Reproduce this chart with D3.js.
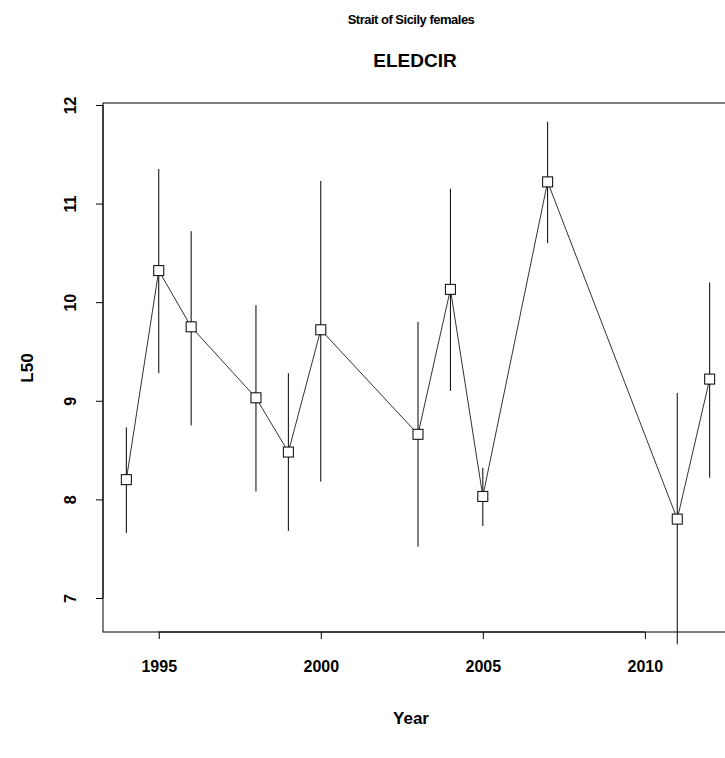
<!DOCTYPE html>
<html><head><meta charset="utf-8">
<script src="https://cdn.jsdelivr.net/npm/d3@7"></script>
<style>body{margin:0;background:#fff;overflow:hidden}</style>
</head><body>
<script>
var years = [1994, 1995, 1996, 1998, 1999, 2000, 2003, 2004, 2005, 2007, 2011, 2012];
var l50   = [8.20, 10.32, 9.75, 9.03, 8.48, 9.72, 8.66, 10.13, 8.03, 11.22, 7.80, 9.22];
var upper = [8.73, 11.35, 10.72, 9.97, 9.28, 11.23, 9.80, 11.15, 8.32, 11.83, 9.08, 10.20];
var lower = [7.66, 9.28, 8.75, 8.08, 7.68, 8.18, 7.52, 9.10, 7.73, 10.60, 6.53, 8.22];
var xTicks = [1995, 2000, 2005, 2010];
var yTicks = [7, 8, 9, 10, 11, 12];

var data = years.map(function(y, i) { return {year: y, v: l50[i], hi: upper[i], lo: lower[i]}; });

var margin = {top: 103, left: 103, bottom: 632, right: 733};
var svg = d3.select("body").append("svg").attr("width", 725).attr("height", 758)
  .style("font-family", "Liberation Sans, Arial, sans-serif");

var x = d3.scaleLinear().domain([1993.28, 2012.72]).range([margin.left, margin.right]);
var y = d3.scaleLinear().domain([6.655, 12.02]).range([margin.bottom, margin.top]);

// error bars
svg.selectAll("line.err").data(data).enter().append("line")
  .attr("x1", function(d) { return x(d.year); }).attr("x2", function(d) { return x(d.year); })
  .attr("y1", function(d) { return y(d.lo); }).attr("y2", function(d) { return y(d.hi); })
  .attr("stroke", "#000").attr("stroke-width", 1);

var line = d3.line().x(function(d) { return x(d.year); }).y(function(d) { return y(d.v); });
svg.append("path").datum(data).attr("d", line).attr("fill", "none").attr("stroke", "#333").attr("stroke-width", 1);

svg.selectAll("rect.pt").data(data).enter().append("rect")
  .attr("x", function(d) { return x(d.year) - 5; }).attr("y", function(d) { return y(d.v) - 5; })
  .attr("width", 10).attr("height", 10).attr("fill", "#fff").attr("stroke", "#000");

// box
svg.append("rect").attr("x", margin.left).attr("y", margin.top)
  .attr("width", margin.right - margin.left).attr("height", margin.bottom - margin.top)
  .attr("fill", "none").attr("stroke", "#000");

// axes
var xAxis = d3.axisBottom(x).tickValues(xTicks).tickSize(7).tickPadding(22).tickFormat(d3.format("d"));
var gx = svg.append("g").attr("transform", "translate(0," + margin.bottom + ")").call(xAxis);
gx.select(".domain").attr("d", "M" + x(1995) + ",0H" + x(2010));
gx.selectAll("text").attr("font-size", 16).attr("font-weight", "bold").attr("font-family", "Liberation Sans, Arial");

var yAxis = d3.axisLeft(y).tickValues(yTicks).tickSize(7).tickFormat(d3.format("d"));
var gy = svg.append("g").attr("transform", "translate(" + margin.left + ",0)").call(yAxis);
gy.select(".domain").attr("d", "M0," + y(7) + "V" + y(12));
gy.selectAll("text").attr("font-size", 16).attr("font-weight", "bold").attr("font-family", "Liberation Sans, Arial")
  .attr("text-anchor", "middle").attr("x", null).attr("dy", null)
  .attr("transform", function(d) { return "translate(-33,0) rotate(-90)"; }).attr("y", 6);

svg.append("text").attr("x", 411).attr("y", 24).attr("text-anchor", "middle")
  .attr("font-size", 13).attr("font-weight", "bold").attr("letter-spacing", -0.5).text("Strait of Sicily females");
svg.append("text").attr("x", 415).attr("y", 67).attr("text-anchor", "middle")
  .attr("font-size", 19).attr("font-weight", "bold").text("ELEDCIR");
svg.append("text").attr("x", 411).attr("y", 724).attr("text-anchor", "middle")
  .attr("font-size", 17).attr("font-weight", "bold").text("Year");
svg.append("text").attr("transform", "translate(33,368) rotate(-90)").attr("text-anchor", "middle")
  .attr("font-size", 17).attr("font-weight", "bold").text("L50");
</script>
</body></html>
